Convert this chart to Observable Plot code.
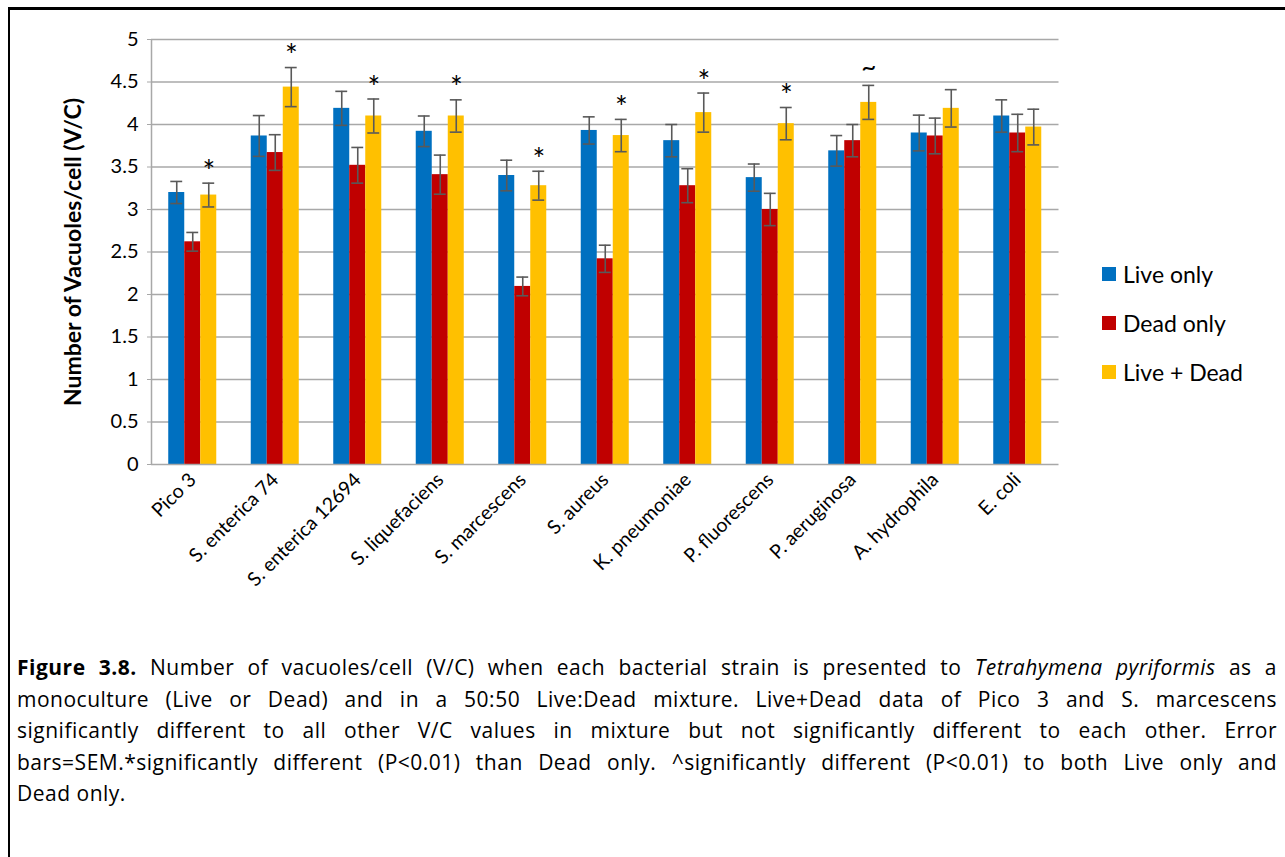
<!DOCTYPE html>
<html>
<head>
<meta charset="utf-8">
<script src="https://cdn.jsdelivr.net/npm/d3@7"></script>
<script src="https://cdn.jsdelivr.net/npm/@observablehq/plot@0.6"></script>
<style>
  html, body { margin: 0; padding: 0; background: #fff; }
  body { width: 1285px; height: 857px; position: relative; overflow: hidden; font-family: Lato, "Open Sans", sans-serif; }
  #frame { position: absolute; left: 8px; top: 7px; width: 1400px; height: 1000px; border-left: 2px solid #000; border-top: 3px solid #000; }
  #chart { position: absolute; left: 0; top: 0; }
  #legend { position: absolute; left: 1102px; top: 249px; font-size: 23px; color: #000; }
  #legend .row { display: flex; align-items: center; height: 49px; }
  #legend .sw { width: 14px; height: 14px; margin-right: 7px; }
  #caption { position: absolute; left: 17px; top: 652px; width: 1260px; font-family: "Open Sans", Lato, sans-serif; font-size: 21px; letter-spacing: 0.5px; color: #000; line-height: 31.5px; }
  #caption .ln { text-align: justify; text-align-last: justify; white-space: nowrap; }
  #caption .ln.last { text-align-last: left; }
</style>
</head>
<body>
<div id="frame"></div>
<div id="chart"></div>
<div id="legend"></div>
<div id="caption"></div>
<script>
// ---- Data ----
const categories = ["Pico 3", "S. enterica 74", "S. enterica 12694", "S. liquefaciens", "S. marcescens", "S. aureus", "K. pneumoniae", "P. fluorescens", "P. aeruginosa", "A. hydrophila", "E. coli"];
const seriesNames = ["Live only", "Dead only", "Live + Dead"];
const liveOnly    = [3.20, 3.865, 4.19, 3.92, 3.40, 3.93, 3.81, 3.375, 3.69, 3.90, 4.10];
const deadOnly    = [2.62, 3.67, 3.52, 3.41, 2.095, 2.42, 3.28, 3.00, 3.81, 3.865, 3.90];
const liveDead    = [3.17, 4.44, 4.10, 4.10, 3.28, 3.87, 4.14, 4.01, 4.26, 4.19, 3.97];
const liveOnlySem = [0.13, 0.24, 0.20, 0.18, 0.18, 0.16, 0.19, 0.16, 0.18, 0.21, 0.19];
const deadOnlySem = [0.11, 0.21, 0.21, 0.23, 0.11, 0.16, 0.20, 0.19, 0.19, 0.21, 0.22];
const liveDeadSem = [0.14, 0.23, 0.20, 0.19, 0.17, 0.19, 0.23, 0.19, 0.20, 0.22, 0.21];
const significance = ["*", "*", "*", "*", "*", "*", "*", "*", "~", "", ""];
const yTicks = [0, 0.5, 1, 1.5, 2, 2.5, 3, 3.5, 4, 4.5, 5];
const yTitle = "Number of Vacuoles/cell (V/C)";
const captionLines = [
  ["Figure 3.8.", " Number of vacuoles/cell (V/C) when each bacterial strain is presented to ", "Tetrahymena pyriformis", " as a"],
  ["", "monoculture (Live or Dead) and in a 50:50 Live:Dead mixture. Live+Dead data of Pico 3 and S. marcescens"],
  ["", "significantly different to all other V/C values in mixture but not significantly different to each other. Error"],
  ["", "bars=SEM.*significantly different (P<0.01) than Dead only. ^significantly different (P<0.01) to both Live only and"],
  ["", "Dead only."]
];

// ---- Styles ----
const colors = ["#0070C0", "#C00000", "#FFC000"];
const barW = 0.194;   // bar width in category units
const capW = 0.072;   // half cap width in category units

const valueSets = [liveOnly, deadOnly, liveDead];
const semSets = [liveOnlySem, deadOnlySem, liveDeadSem];
const rows = [];
seriesNames.forEach((s, si) => {
  categories.forEach((c, ci) => {
    const center = ci + 0.5 + (si - 1) * barW;
    rows.push({series: s, si, category: c, ci, value: valueSets[si][ci], sem: semSets[si][ci],
      x1: center - barW / 2, x2: center + barW / 2, xc: center});
  });
});
const sigRows = rows.filter(d => d.si === 2 && significance[d.ci] !== "")
  .map(d => ({...d, label: significance[d.ci]}));

const W = 1285, H = 640;
const chart = Plot.plot({
  width: W, height: H,
  marginLeft: 151, marginRight: 226.5, marginTop: 39, marginBottom: H - 464,
  style: {fontFamily: "Lato, 'Open Sans', sans-serif", background: "transparent", color: "#000"},
  x: {type: "linear", domain: [0, categories.length], axis: null},
  y: {type: "linear", domain: [0, 5], axis: null},
  marks: [
    Plot.gridY(yTicks.filter(t => t > 0), {stroke: "#a8a8a8", strokeOpacity: 1, strokeWidth: 1.5}),
    Plot.rectY(rows, {x1: "x1", x2: "x2", y1: 0, y2: "value", fill: d => colors[d.si], inset: 0}),
    Plot.ruleX(rows, {x: "xc", y1: d => d.value - d.sem, y2: d => d.value + d.sem, stroke: "#595959", strokeWidth: 1.6}),
    Plot.ruleY(rows, {y: d => d.value + d.sem, x1: d => d.xc - capW, x2: d => d.xc + capW, stroke: "#595959", strokeWidth: 1.6}),
    Plot.ruleY(rows, {y: d => d.value - d.sem, x1: d => d.xc - capW, x2: d => d.xc + capW, stroke: "#595959", strokeWidth: 1.6}),
    Plot.text(sigRows.filter(d => d.label === "*"), {x: "xc", y: d => d.value + d.sem, text: "label", dy: -11, fontSize: 30, fill: "#000", lineAnchor: "middle"}),
    Plot.text(sigRows.filter(d => d.label === "~"), {x: "xc", y: d => d.value + d.sem, text: "label", dy: -18, fontSize: 26, fill: "#000", lineAnchor: "middle"}),
    Plot.ruleY([0], {stroke: "#a8a8a8", strokeWidth: 1.5}),
    Plot.ruleX([0], {stroke: "#a8a8a8", strokeWidth: 1.5}),
    Plot.axisY({ticks: yTicks, tickFormat: d => String(d), tickSize: 4, tickPadding: 9, fontSize: 20, stroke: "#a8a8a8", fill: "#000", label: null}),
    Plot.axisX({ticks: categories.map((c, i) => i + 0.5), tickFormat: v => categories[Math.floor(v)], tickSize: 0, tickPadding: 12, tickRotate: -45, fontSize: 19.5, fill: "#000", label: null}),
    Plot.text([yTitle], {frameAnchor: "left", dx: -78, rotate: -90, textAnchor: "middle", fontSize: 23, fontWeight: "bold", fill: "#000", text: d => d})
  ]
});
document.getElementById("chart").appendChild(chart);

// Legend
const legend = document.getElementById("legend");
seriesNames.forEach((s, i) => {
  const row = document.createElement("div");
  row.className = "row";
  const sw = document.createElement("span");
  sw.className = "sw";
  sw.style.background = colors[i];
  const lab = document.createElement("span");
  lab.textContent = s;
  row.appendChild(sw); row.appendChild(lab);
  legend.appendChild(row);
});

// Caption
const cap = document.getElementById("caption");
captionLines.forEach((parts, li) => {
  const div = document.createElement("div");
  div.className = "ln" + (li === captionLines.length - 1 ? " last" : "");
  parts.forEach((p, pi) => {
    if (!p) return;
    const span = document.createElement("span");
    span.textContent = p;
    if (li === 0 && pi === 0) span.style.fontWeight = "bold";
    if (li === 0 && pi === 2) span.style.fontStyle = "italic";
    div.appendChild(span);
  });
  cap.appendChild(div);
});
</script>
</body>
</html>
